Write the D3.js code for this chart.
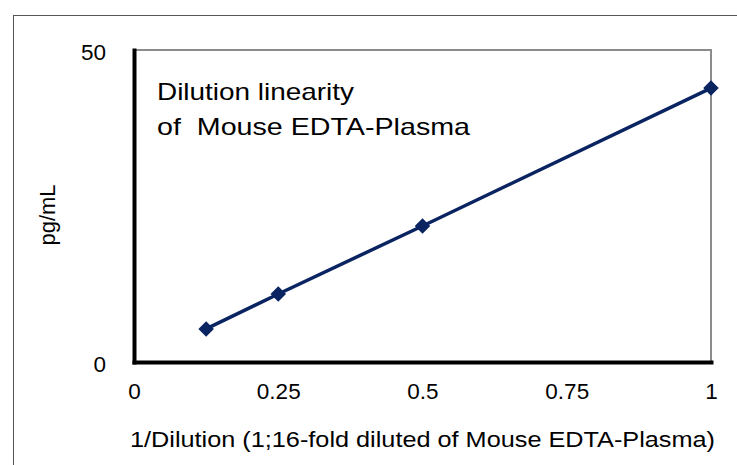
<!DOCTYPE html>
<html lang="en">
<head>
<meta charset="UTF-8">
<title>Dilution linearity</title>
<script src="https://cdn.jsdelivr.net/npm/d3@7"></script>
<style>
    body { margin: 0; background: #fff; }
    text { font-family: "Liberation Sans", Arial, sans-serif; fill: #000; white-space: pre; }
</style>
</head>
<body>
<div id="chart"></div>
<script>
    // data
    const dilution = [0.125, 0.25, 0.5, 1];
    const pgPerMl = [5.3, 10.9, 21.8, 43.9];
    const xTicks = [0, 0.25, 0.5, 0.75, 1];
    const yTicks = [0, 50];
    const titleLines = ["Dilution linearity", "of  Mouse EDTA-Plasma"];

    const W = 737, H = 465;
    const svg = d3.select("#chart").append("svg")
        .attr("width", W).attr("height", H);

    // outer chart frame (runs off the right and bottom edge)
    svg.append("rect")
        .attr("x", 13.5).attr("y", 15.5)
        .attr("width", 760).attr("height", 480)
        .attr("fill", "none").attr("stroke", "#555").attr("stroke-width", 1);

    const x = d3.scaleLinear().domain([0, 1]).range([134, 711]);
    const y = d3.scaleLinear().domain([0, 50]).range([362, 50]);

    // grey plot frame (top and right)
    svg.append("rect")
        .attr("x", x(0)).attr("y", y(50))
        .attr("width", x(1) - x(0)).attr("height", y(0) - y(50))
        .attr("fill", "none").attr("stroke", "#8c8c8c").attr("stroke-width", 2);

    const xAxis = svg.append("g")
        .attr("transform", `translate(0,${y(0)})`)
        .call(d3.axisBottom(x).tickValues(xTicks).tickSize(0).tickPadding(21)
            .tickFormat(d => String(d)));
    const yAxis = svg.append("g")
        .attr("transform", `translate(${x(0)},0)`)
        .call(d3.axisLeft(y).tickValues(yTicks).tickSize(0).tickPadding(28));

    [xAxis, yAxis].forEach(g => {
        g.select(".domain").attr("stroke", "#000").attr("stroke-width", 4)
            .attr("stroke-linecap", "square");
        g.selectAll("text").style("font-family", '"Liberation Sans", Arial, sans-serif')
            .style("font-size", "22.5px").attr("fill", "#000");
    });
    yAxis.selectAll("text").attr("dy", "0.4em");

    // series
    const pts = dilution.map((d, i) => [d, pgPerMl[i]]);
    svg.append("path")
        .datum(pts)
        .attr("fill", "none")
        .attr("stroke", "#0a2462")
        .attr("stroke-width", 3.5)
        .attr("d", d3.line().x(d => x(d[0])).y(d => y(d[1])));

    svg.selectAll("path.marker")
        .data(pts)
        .join("path")
        .classed("marker", true)
        .attr("d", d3.symbol(d3.symbolSquare, 121))
        .attr("fill", "#0a2462")
        .attr("transform", d => `translate(${x(d[0])},${y(d[1])}) rotate(45)`);

    // annotation inside the plot
    svg.append("g").selectAll("text")
        .data(titleLines)
        .join("text")
        .attr("x", 157)
        .attr("y", (d, i) => 100 + i * 35)
        .attr("font-size", 24)
        .attr("textLength", (d, i) => i === 0 ? 197 : 313)
        .attr("lengthAdjust", "spacingAndGlyphs")
        .text(d => d);

    // axis titles
    svg.append("text")
        .attr("x", 130).attr("y", 447)
        .attr("font-size", 22.5)
        .attr("textLength", 585)
        .attr("lengthAdjust", "spacingAndGlyphs")
        .text("1/Dilution (1;16-fold diluted of Mouse EDTA-Plasma)");

    svg.append("text")
        .attr("transform", "translate(55,215) rotate(-90)")
        .attr("text-anchor", "middle")
        .attr("font-size", 22)
        .text("pg/mL");
</script>
</body>
</html>
